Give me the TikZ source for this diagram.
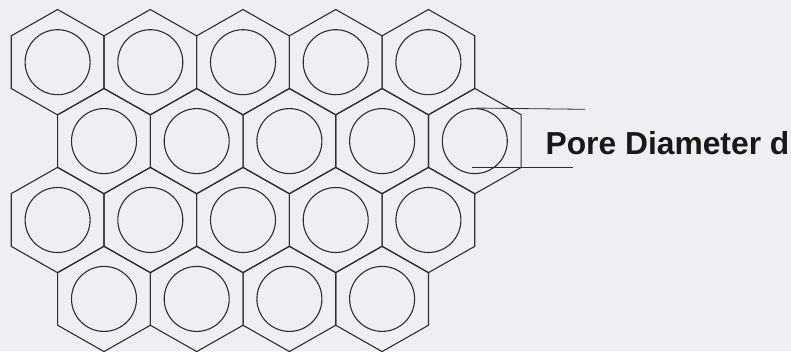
\documentclass[tikz,border=0pt]{standalone}
\usepackage{fontspec}
\setmainfont{Liberation Sans}
\usetikzlibrary{positioning}
\definecolor{scanbg}{HTML}{EEEFF3}
\definecolor{inkgrey}{HTML}{2E2E2E}

\begin{document}
\begin{tikzpicture}[x=1pt, y=-1pt, line width=1.1pt, inkgrey,
  pore/.style={circle, draw, minimum size=65, inner sep=0pt},
  lbl/.style={font=\bfseries\fontsize{31.8}{32}\selectfont, text=black!90, inner sep=0pt, anchor=base west}]
\fill[scanbg] (0,0) rectangle (791,351);
\useasboundingbox (0,0) rectangle (791,351);
% honeycomb: row / first centre x / centre y / cells
\foreach \r/\sx/\cy/\n in {1/57.6/62.2/5, 2/104/141.1/5, 3/57.6/220/5, 4/104/298.9/4} {
  \foreach \c in {1,...,\n} {
    \pgfmathsetmacro\cx{\sx+92.7*(\c-1)}
    \draw (\cx,\cy-52.7) -- (\cx+46.35,\cy-26.35) -- (\cx+46.35,\cy+26.35) -- (\cx,\cy+52.7)
      -- (\cx-46.35,\cy+26.35) -- (\cx-46.35,\cy-26.35) -- cycle;
    \node[pore] (p-\r-\c) at (\cx,\cy) {};
  }
}
% diameter marks
\coordinate (d-top) at (585,109.3);
\coordinate (d-bs) at (471.7,167.7);
\coordinate (d-be) at (573.3,167.7);
\draw[line width=0.8pt] ([xshift=2]p-2-5.north) -- (d-top);
\draw[line width=0.8pt] (d-bs) -- (d-be);
\node[lbl] (dia) at (545,154.3) {Pore Diameter d};
\end{tikzpicture}
\end{document}
